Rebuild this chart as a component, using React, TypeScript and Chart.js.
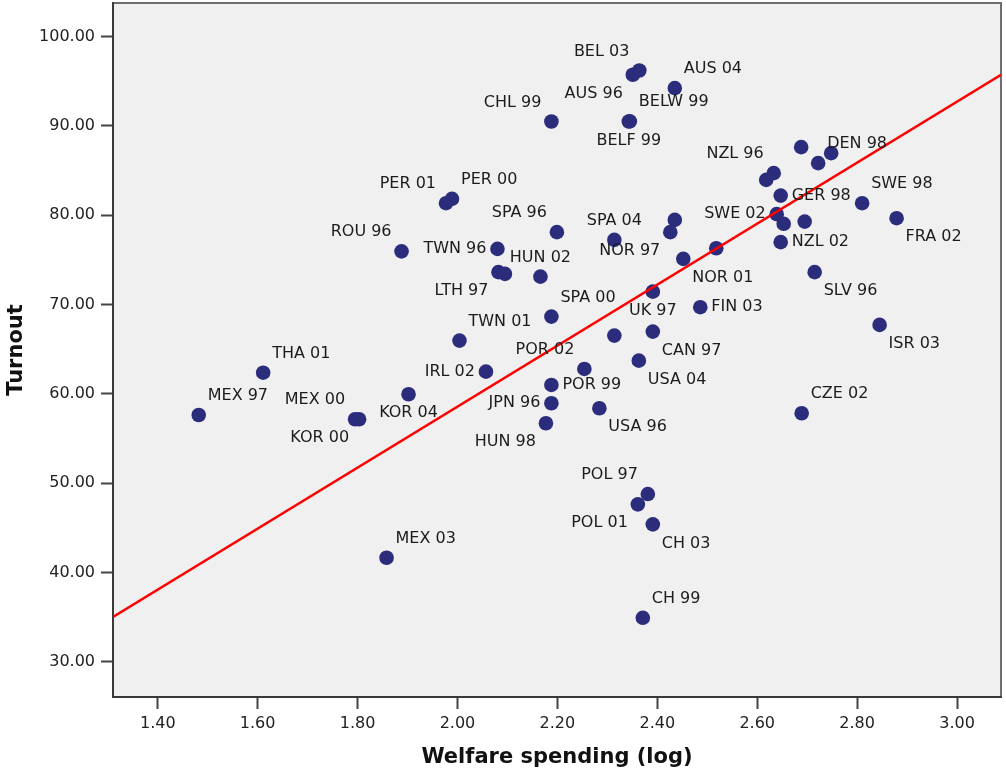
import React, { useEffect, useRef } from 'react';
import { Chart, registerables } from 'chart.js';

Chart.register(...registerables);

// Election cases (country + year), welfare spending (log) and turnout (%)
const cases = [
  'AUS 96', 'BEL 03', 'AUS 04', 'CHL 99', 'BELF 99', 'BELW 99', '', 'NZL 96', '', 'DEN 98',
  '', 'GER 98', 'SWE 02', '', '', 'NZL 02', 'SWE 98', 'FRA 02', '', 'NOR 97',
  'SPA 04', 'SPA 96', 'TWN 96', 'NOR 01', '', 'LTH 97', '', 'HUN 02', 'SLV 96', 'UK 97',
  'SPA 00', 'FIN 03', '', 'CAN 97', 'ISR 03', 'USA 04', 'POR 02', 'POR 99', 'JPN 96', 'USA 96',
  'HUN 98', 'CZE 02', 'IRL 02', 'ROU 96', 'TWN 01', 'THA 01', 'MEX 97', 'MEX 00', 'KOR 00', 'KOR 04',
  'PER 01', 'PER 00', 'MEX 03', 'POL 97', 'POL 01', 'CH 03', 'CH 99',
];

const welfare = [
  2.351, 2.364, 2.435, 2.188, 2.343, 2.345, 2.618, 2.633, 2.688, 2.722,
  2.748, 2.647, 2.639, 2.653, 2.695, 2.647, 2.810, 2.879, 2.435, 2.426,
  2.314, 2.199, 2.080, 2.452, 2.518, 2.082, 2.095, 2.166, 2.715, 2.391,
  2.188, 2.486, 2.314, 2.391, 2.845, 2.363, 2.254, 2.188, 2.188, 2.284,
  2.177, 2.689, 2.057, 1.888, 2.004, 1.611, 1.482, 1.795, 1.803, 1.902,
  1.977, 1.989, 1.858, 2.381, 2.361, 2.391, 2.371,
];

const turnout = [
  95.71, 96.19, 94.22, 90.48, 90.48, 90.5, 83.95, 84.7, 87.61, 85.82,
  86.94, 82.19, 80.11, 79.03, 79.28, 76.98, 81.34, 79.66, 79.47, 78.1,
  77.23, 78.1, 76.23, 75.11, 76.3, 73.62, 73.43, 73.12, 73.62, 71.44,
  68.65, 69.7, 66.52, 66.97, 67.72, 63.72, 62.79, 61.0, 58.95, 58.39,
  56.71, 57.83, 62.49, 75.95, 65.96, 62.37, 57.64, 57.16, 57.16, 59.96,
  81.34, 81.83, 41.66, 48.79, 47.64, 45.4, 34.94,
];

// Which side of its marker each case label sits on (compass direction)
const labelPlacement = [
  'SW', 'NW', 'NE', 'NW', 'S', 'NE', '', 'NW', '', 'NE',
  '', 'E', 'W', '', '', 'E', 'NE', 'SE', '', 'SW',
  'N', 'NW', 'W', 'SE', '', 'SW', '', 'N', 'SE', 'S',
  'NE', 'E', '', 'SE', 'SE', 'SE', 'NW', 'E', 'W', 'SE',
  'SW', 'NE', 'W', 'NW', 'NE', 'NE', 'NE', 'NW', 'SW', 'S',
  'NW', 'NE', 'NE', 'NW', 'SW', 'SE', 'NE',
];

const xTicks = [1.4, 1.6, 1.8, 2.0, 2.2, 2.4, 2.6, 2.8, 3.0];
const yTicks = [30, 40, 50, 60, 70, 80, 90, 100];
const xRange = [1.3104, 3.088];
const yRange = [26.08, 103.74];

// Linear fit: turnout = intercept + slope * welfare
const fitIntercept = -9.68;
const fitSlope = 34.13;

const FONT = '"DejaVu Sans", "Liberation Sans", Arial, sans-serif';

const plotFrame = {
  id: 'plotFrame',
  beforeDraw(chart: any) {
    const { ctx, chartArea: a, width, height } = chart;
    ctx.save();
    ctx.fillStyle = '#ffffff';
    ctx.fillRect(0, 0, width, height);
    ctx.fillStyle = '#f0f0f0';
    ctx.fillRect(a.left, a.top, a.right - a.left, a.bottom - a.top);
    ctx.strokeStyle = '#6e6e6e';
    ctx.lineWidth = 2;
    ctx.strokeRect(a.left, a.top, a.right - a.left, a.bottom - a.top);
    ctx.restore();
  },
};

const caseLabels = {
  id: 'caseLabels',
  afterDatasetsDraw(chart: any) {
    const { ctx } = chart;
    const xs = chart.scales.x;
    const ys = chart.scales.y;
    ctx.save();
    ctx.font = `16px ${FONT}`;
    ctx.fillStyle = '#1c1c1c';
    ctx.textBaseline = 'middle';
    cases.forEach((name, i) => {
      const pos = labelPlacement[i];
      if (!name || !pos) return;
      const px = xs.getPixelForValue(welfare[i]);
      const py = ys.getPixelForValue(turnout[i]);
      let dx = 0;
      let dy = 0;
      let align: CanvasTextAlign = 'center';
      if (pos.includes('N')) dy = -19;
      if (pos.includes('S')) dy = 19;
      if (pos.includes('E')) {
        dx = pos === 'E' ? 11 : 9;
        align = 'left';
      } else if (pos.includes('W')) {
        dx = pos === 'W' ? -11 : -10;
        align = 'right';
      }
      ctx.textAlign = align;
      ctx.fillText(name, px + dx, py + dy);
    });
    ctx.restore();
  },
};

export default function App() {
  const canvasRef = useRef<HTMLCanvasElement | null>(null);

  useEffect(() => {
    const canvas = canvasRef.current;
    if (!canvas) return;

    const points = welfare.map((w, i) => ({ x: w, y: turnout[i] }));
    const fitLine = xRange.map((w) => ({ x: w, y: fitIntercept + fitSlope * w }));

    const chart = new Chart(canvas, {
      type: 'scatter',
      data: {
        datasets: [
          {
            label: 'Fit',
            data: fitLine,
            showLine: true,
            borderColor: '#ff0000',
            borderWidth: 2.5,
            pointRadius: 0,
            order: 0,
          },
          {
            label: 'Cases',
            data: points,
            backgroundColor: '#2b2c7c',
            borderWidth: 0,
            pointRadius: 7.3,
            pointHoverRadius: 7.3,
            order: 1,
          },
        ],
      },
      options: {
        animation: false,
        responsive: false,
        devicePixelRatio: 1,
        events: [],
        layout: { autoPadding: false, padding: { top: 3, right: 5, left: 0, bottom: 0 } },
        plugins: {
          legend: { display: false },
          tooltip: { enabled: false },
        },
        scales: {
          x: {
            type: 'linear',
            min: xRange[0],
            max: xRange[1],
            afterBuildTicks: (s: any) => {
              s.ticks = xTicks.map((v) => ({ value: v }));
            },
            afterFit: (s: any) => {
              s.height = 74;
              s.paddingLeft = 0;
              s.paddingRight = 0;
            },
            ticks: {
              callback: (v: any) => Number(v).toFixed(2),
              font: { family: FONT, size: 16 },
              color: '#222',
              padding: 5,
              maxRotation: 0,
              autoSkip: false,
            },
            grid: {
              drawOnChartArea: false,
              drawTicks: true,
              tickLength: 12,
              tickColor: '#444',
              tickWidth: 2,
            },
            border: { display: true, color: '#3a3a3a', width: 2 },
            title: {
              display: true,
              text: 'Welfare spending (log)',
              font: { family: FONT, size: 21, weight: 'bold' },
              color: '#111',
              padding: { top: 0, bottom: 1 },
            },
          },
          y: {
            type: 'linear',
            min: yRange[0],
            max: yRange[1],
            afterBuildTicks: (s: any) => {
              s.ticks = yTicks.map((v) => ({ value: v }));
            },
            afterFit: (s: any) => {
              s.width = 113;
              s.paddingTop = 0;
              s.paddingBottom = 0;
            },
            ticks: {
              callback: (v: any) => Number(v).toFixed(2),
              font: { family: FONT, size: 16 },
              color: '#222',
              padding: 6,
              autoSkip: false,
            },
            grid: {
              drawOnChartArea: false,
              drawTicks: true,
              tickLength: 12,
              tickColor: '#444',
              tickWidth: 2,
            },
            border: { display: true, color: '#3a3a3a', width: 2 },
            title: {
              display: true,
              text: 'Turnout',
              font: { family: FONT, size: 21, weight: 'bold' },
              color: '#111',
              padding: { top: 4, bottom: 0 },
            },
          },
        },
      },
      plugins: [plotFrame, caseLabels],
    } as any);

    return () => chart.destroy();
  }, []);

  return (
    <div style={{ position: 'absolute', left: 0, top: 0, width: 1006, height: 771, background: '#fff' }}>
      <canvas ref={canvasRef} width={1006} height={771} style={{ display: 'block' }} />
    </div>
  );
}
